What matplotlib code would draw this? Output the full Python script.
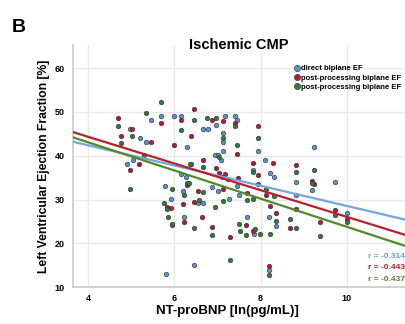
import matplotlib
matplotlib.use("Agg")
from matplotlib import pyplot as plt
from matplotlib.lines import Line2D
import numpy as np

plt.rcParams["font.family"] = ["Liberation Sans", "DejaVu Sans"]

# NT-proBNP (ln) vs. LVEF
blue_x = [4.90, 4.98, 5.03, 5.19, 5.34, 5.46, 5.70, 5.98, 6.16, 6.28, 6.66, 6.78, 6.96,
          7.17, 7.44, 7.40, 7.13, 7.13, 6.93, 7.02, 7.09, 7.13, 6.39, 6.27, 5.79, 5.91,
          5.95, 6.20, 6.22, 6.55, 6.66, 6.86, 7.00, 7.27, 7.44, 7.49, 7.68, 8.20, 7.94,
          7.82, 8.11, 8.22, 8.30, 8.35, 8.83, 8.81, 9.24, 9.20, 9.73, 10.00, 5.81, 6.46,
          8.20, 7.85, 6.16]
blue_y = [38.1, 46.1, 39.1, 44.1, 43.1, 48.2, 49.1, 49.1, 49.1, 42.1, 46.1, 46.1, 47.1,
          49.1, 48.2, 49.1, 45.1, 43.1, 40.1, 40.1, 39.1, 41.1, 38.1, 35.1, 33.1, 30.1,
          24.1, 32.0, 26.0, 29.1, 29.1, 32.9, 32.0, 30.1, 33.1, 31.1, 26.0, 26.0, 41.1,
          36.8, 39.1, 36.1, 35.1, 24.0, 34.1, 31.1, 42.1, 32.1, 34.1, 27.0, 12.9, 15.0,
          14.0, 22.2, 35.8]

red_x = [4.70, 4.76, 4.97, 5.01, 5.18, 5.46, 5.70, 5.98, 6.16, 6.45, 6.39, 6.30, 6.20,
         6.22, 5.93, 5.82, 6.46, 6.55, 6.63, 6.66, 6.86, 6.86, 6.96, 7.03, 7.10, 7.13,
         7.28, 7.13, 7.25, 7.41, 7.44, 7.48, 7.68, 7.66, 7.82, 7.82, 7.94, 7.94, 8.12,
         8.22, 8.29, 8.35, 8.20, 8.67, 8.83, 8.81, 9.20, 9.24, 9.37, 9.73, 10.00, 7.17]
red_y = [48.7, 44.5, 36.8, 46.1, 38.1, 43.2, 47.6, 42.5, 48.2, 50.6, 44.5, 33.3, 29.0,
         24.9, 28.0, 28.3, 29.5, 32.0, 25.9, 39.0, 23.8, 48.2, 37.2, 36.0, 35.2, 48.0,
         21.4, 32.3, 34.7, 47.4, 40.3, 35.0, 31.6, 24.2, 38.4, 22.7, 46.8, 35.7, 31.1,
         28.5, 38.3, 27.0, 14.7, 23.4, 37.9, 27.9, 34.2, 33.5, 24.9, 27.5, 25.5, 35.8]

green_x = [4.70, 4.76, 4.97, 5.01, 5.29, 5.34, 5.70, 5.75, 5.82, 5.86, 5.94, 5.94, 6.16,
           6.22, 6.28, 6.35, 6.45, 6.46, 6.66, 6.66, 6.58, 6.76, 6.86, 6.93, 6.97, 7.03,
           7.13, 7.12, 7.28, 7.40, 7.44, 7.49, 7.51, 7.66, 7.68, 7.82, 7.82, 7.86, 7.94,
           7.94, 7.98, 8.12, 8.20, 8.22, 8.30, 8.35, 8.67, 8.83, 8.83, 9.20, 9.24, 9.37,
           9.73, 10.00, 6.33]
green_y = [46.9, 42.9, 32.5, 44.6, 40.1, 49.7, 52.2, 29.3, 27.8, 26.0, 32.3, 24.5, 46.0,
           31.1, 33.7, 38.1, 48.2, 23.4, 37.5, 31.7, 29.8, 48.6, 21.8, 28.3, 48.7, 39.8,
           44.1, 29.7, 16.1, 46.7, 42.4, 24.4, 22.9, 21.8, 29.8, 36.3, 30.1, 23.2, 44.0,
           33.6, 22.2, 32.5, 12.8, 22.2, 30.8, 25.2, 25.5, 23.6, 36.2, 33.8, 36.7, 21.7,
           26.5, 24.8, 33.8]

series_labels = ["direct biplane EF", "post-processing biplane EF", "post-processing biplane EF"]
fit_slope = [-2.31, -3.05, -3.22]
fit_intercept = [51.63, 56.53, 55.95]
r_values = ["r = -0.314", "r = -0.443", "r = -0.437"]

point_colors = ["#5b8fd0", "#b3173a", "#2f7a35"]
line_colors = ["#72a7dd", "#b8202c", "#4f8a2a"]
text_colors = ["#6d9fcf", "#b01c2e", "#5e7f2e"]

fig = plt.figure(figsize=(4.06, 3.24), dpi=100)
ax = fig.add_axes([0.18, 0.114, 0.818, 0.747])

xlim = (3.65, 11.35)
ax.set_xlim(*xlim)
ax.set_ylim(10, 65.3)
ax.set_xticks([4, 6, 8, 10])
ax.set_yticks([10, 20, 30, 40, 50, 60])
ax.grid(True, color="#e8e8e8", lw=1.0)
ax.set_axisbelow(True)
for s in ["top", "right"]:
    ax.spines[s].set_visible(False)
for s in ["left", "bottom"]:
    ax.spines[s].set_color("#c8c8c8")
    ax.spines[s].set_linewidth(1.2)
ax.tick_params(length=0, labelsize=6.5, pad=6)
ax.tick_params(axis="x", pad=5)
for lab in ax.get_xticklabels() + ax.get_yticklabels():
    lab.set_fontweight("bold")

xs = [blue_x, red_x, green_x]
ys = [blue_y, red_y, green_y]
for i in range(3):
    ax.scatter(xs[i], ys[i], s=11, color=point_colors[i], edgecolor="#333333",
               linewidth=0.4, zorder=3)

xx = np.array(xlim)
for i in range(3):
    ax.plot(xx, fit_intercept[i] + fit_slope[i] * xx, color=line_colors[i], lw=1.6, zorder=4)

ax.text(0.5, 1.0, "Ischemic CMP", transform=ax.transAxes, ha="center", va="center",
        fontsize=10.5, fontweight="bold")

handles = [Line2D([], [], ls="", marker="o", ms=4.5, color=point_colors[i],
                  markeredgecolor="#333333", markeredgewidth=0.4) for i in range(3)]
ax.legend(handles, series_labels, loc="upper right", bbox_to_anchor=(1.005, 0.94),
          frameon=False, handletextpad=0.1, labelspacing=0.25,
          handlelength=1.0, borderpad=0.2, prop={"weight": "bold", "size": 5.5})

for i in range(3):
    ax.text(1.0, 0.125 - i * 0.046, r_values[i], transform=ax.transAxes, ha="right",
            va="center", fontsize=6, fontweight="bold", color=text_colors[i])

ax.set_xlabel("NT-proBNP [ln(pg/mL)]", fontsize=9.5, fontweight="bold")
ax.xaxis.set_label_coords(0.465, -0.075)
ax.set_ylabel("Left Ventricular Ejection Fraction [%]", fontsize=8.7, fontweight="bold")
ax.yaxis.set_label_coords(-0.07, 0.5)

fig.text(0.03, 0.90, "B", fontsize=14, fontweight="bold")

fig.savefig("out.png", dpi=100)
